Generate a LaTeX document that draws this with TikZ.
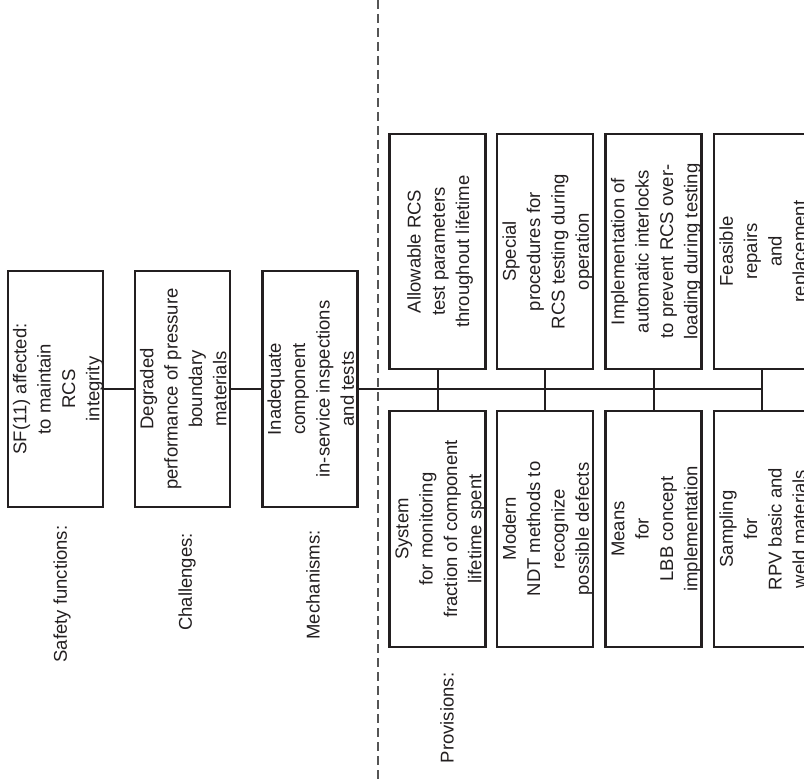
\documentclass[tikz,border=0pt]{standalone}
\usepackage{fontspec}
\setmainfont{Liberation Sans}
\definecolor{ink}{HTML}{231F20}
\definecolor{divider}{HTML}{555555}
% upright-reading text block, turned to run bottom to top;
% the trimmed depth nudges the lines towards the right edge of the box
\newcommand\boxtext[1]{\rotatebox{90}{\raisebox{0pt}[\height][\dimexpr\depth-5pt\relax]{\begin{tabular}{@{}c@{}}#1\end{tabular}}}}
\begin{document}
\begin{tikzpicture}[x=1pt,y=-1pt,
  txt/.style={text=ink, font=\fontsize{18.5}{24.3}\selectfont},
  box/.style={txt, draw=ink, line width=2.5pt, minimum width=95pt,
              minimum height=236pt, inner sep=0pt},
  link/.style={draw=ink, line width=2pt},
  lbl/.style={txt, rotate=90, inner sep=0pt}]
\useasboundingbox (0,0) rectangle (804,781);

% divider between the chain and the provisions
\coordinate (divtop) at (378,0);
\coordinate (divbot) at (378,781);
\draw[divider, line width=1.5pt, dash pattern=on 9pt off 5pt] (divtop) -- (divbot);

% chain: safety function, challenge, mechanism
\node[box] (sf)   at (55.5,389) {\boxtext{SF(11) affected:\\ to maintain\\ RCS\\ integrity}};
\node[box] (chal) at (182.5,389) {\boxtext{Degraded\\ performance of pressure\\ boundary\\ materials}};
\node[box] (mech) at (310,389) {\boxtext{Inadequate\\ component\\ in-service inspections\\ and tests}};

% provisions, upper row
\node[box, minimum width=96pt, minimum height=235pt] (pa1) at (437.5,251.5) {\boxtext{Allowable RCS\\ test parameters\\ throughout lifetime}};
\node[box, minimum width=96pt, minimum height=235pt] (pb1) at (545,251.5) {\boxtext{Special\\ procedures for\\ RCS testing during\\ operation}};
\node[box, minimum width=96pt, minimum height=235pt] (pc1) at (653.5,251.5) {\boxtext{Implementation of\\ automatic interlocks\\ to prevent RCS over-\\ loading during testing}};
\node[box, minimum width=96pt, minimum height=235pt] (pd1) at (762,251.5) {\boxtext{Feasible\\ repairs\\ and\\ replacement}};

% provisions, lower row
\node[box, minimum width=96pt, minimum height=236pt] (pa2) at (437.5,529) {\boxtext{System\\ for monitoring\\ fraction of component\\ lifetime spent}};
\node[box, minimum width=96pt, minimum height=236pt] (pb2) at (545,529) {\boxtext{Modern\\ NDT methods to\\ recognize\\ possible defects}};
\node[box, minimum width=96pt, minimum height=236pt] (pc2) at (653.5,529) {\boxtext{Means\\ for\\ LBB concept\\ implementation}};
\node[box, minimum width=96pt, minimum height=236pt] (pd2) at (762,529) {\boxtext{Sampling\\ for\\ RPV basic and\\ weld materials}};

% row labels
\node[lbl] (lsf)   at (62,594)  {Safety functions:};
\node[lbl] (lchal) at (187,582) {Challenges:};
\node[lbl] (lmech) at (313,585) {Mechanisms:};
\node[lbl] (lprov) at (447,718) {Provisions:};

% connectors
\draw[link] (sf.east) -- (chal.west);
\draw[link] (chal.east) -- (mech.west);
\coordinate (trunkend) at (pd1.south |- mech.east);
\draw[link] (mech.east) -- (trunkend);
\draw[link] (pa1.south) -- (pa2.north);
\draw[link] (pb1.south) -- (pb2.north);
\draw[link] (pc1.south) -- (pc2.north);
\draw[link] (pd1.south) -- (pd2.north);
\end{tikzpicture}
\end{document}
